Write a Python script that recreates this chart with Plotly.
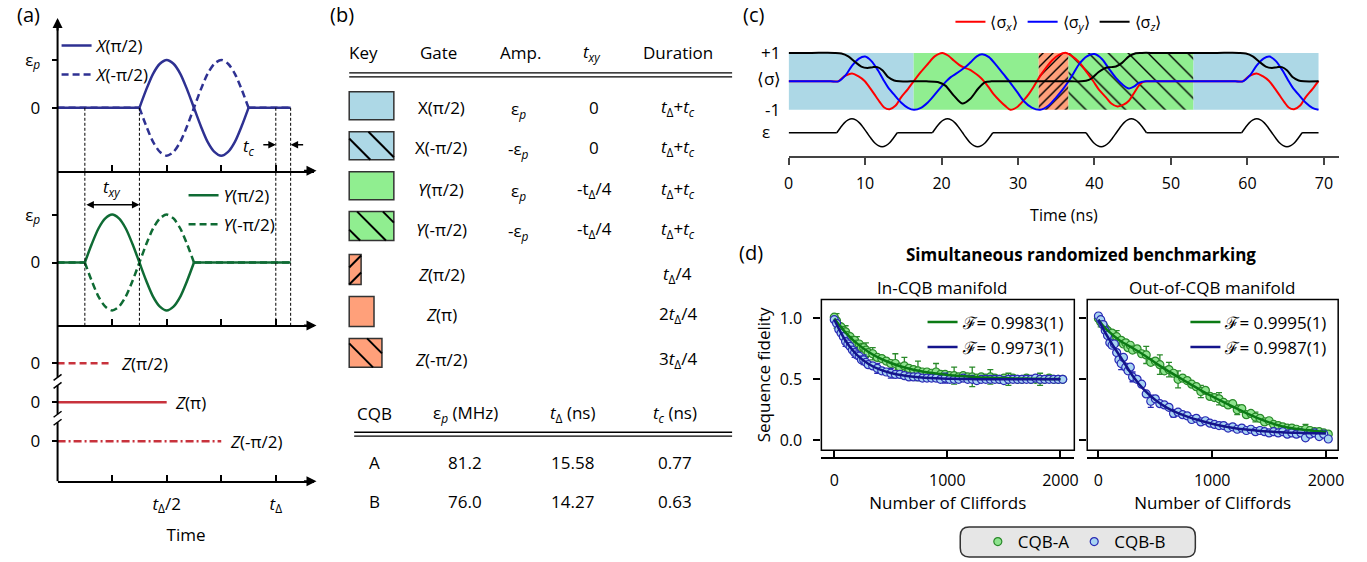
import plotly.graph_objects as go

W, H = 1367, 562
FONT = "Open Sans"

# ---------------- panel (a) data (time in units of t_Delta) ----------------
PULSE_FRACTION = [0, 0.0625, 0.125, 0.1875, 0.25, 0.3125, 0.375, 0.4375, 0.5,
                  0.5625, 0.625, 0.6875, 0.75, 0.8125, 0.875, 0.9375, 1.0]
PULSE_SHAPE = [0, 0.38, 0.71, 0.92, 1.0, 0.92, 0.71, 0.38, 0,
               -0.38, -0.71, -0.92, -1.0, -0.92, -0.71, -0.38, 0]
A_TIME_END = 1.068
X_PULSE_START = 0.375
Y_PULSE_START = 0.125
PULSE_WIDTH = 0.5
X_NAMES = ["<i>X</i>(π/2)", "<i>X</i>(-π/2)"]
Y_NAMES = ["<i>Y</i>(π/2)", "<i>Y</i>(-π/2)"]
PULSE_SIGNS = [1, -1]
Z_NAMES = ["<i>Z</i>(π/2)", "<i>Z</i>(π)", "<i>Z</i>(-π/2)"]
Z_DURATIONS = [0.25, 0.5, 0.75]
Z_LEVELS = [2, 1, 0]
MARK_T = [0.125, 0.375, 1.0, 1.068]

# ---------------- panel (b) table ----------------
TABLE_HEAD = ["Key", "Gate", "Amp.", "<i>t</i><sub><i>xy</i></sub>", "Duration"]
GATE_ROWS = ["X(π/2)", "X(-π/2)", "<i>Y</i>(π/2)", "<i>Y</i>(-π/2)",
             "<i>Z</i>(π/2)", "<i>Z</i>(π)", "<i>Z</i>(-π/2)"]
AMP_ROWS = ["ε<sub><i>p</i></sub>", "-ε<sub><i>p</i></sub>", "ε<sub><i>p</i></sub>",
            "-ε<sub><i>p</i></sub>", "", "", ""]
TXY_ROWS = ["0", "0", "-t<sub>Δ</sub>/4", "-t<sub>Δ</sub>/4", "", "", ""]
DUR_ROWS = ["<i>t</i><sub>Δ</sub>+<i>t</i><sub><i>c</i></sub>"] * 4 + \
           ["<i>t</i><sub>Δ</sub>/4", "2<i>t</i><sub>Δ</sub>/4", "3<i>t</i><sub>Δ</sub>/4"]
CQB_HEAD = ["CQB", "ε<sub><i>p</i></sub> (MHz)", "<i>t</i><sub>Δ</sub> (ns)", "<i>t</i><sub><i>c</i></sub> (ns)"]
CQB_NAMES = ["A", "B"]
EPS_P_MHZ = ["81.2", "76.0"]
T_DELTA_NS = ["15.58", "14.27"]
T_C_NS = ["0.77", "0.63"]

# ---------------- panel (c) data (ns) ----------------
GATE_LABELS = ["X(π/2)", "Y(π/2)", "Z(π/2)", "Y(-π/2)", "X(π/2)"]
GATE_BOUNDS = [0, 16.35, 32.7, 36.6, 52.95, 69.3]
SX_T = [0, 3, 5.5, 6.5, 7.3, 8.3, 9.1, 9.9, 10.6, 11.2, 11.9, 12.5, 13.2, 14.0, 14.7, 15.6, 16.4,
        17.3, 18.2, 19.1, 20.1, 20.9, 21.6, 22.3, 22.9, 23.6, 24.2, 24.9, 25.5,
        26.2, 26.8, 27.6, 28.4, 29.0, 29.9, 30.7, 31.4, 32.0, 32.8, 33.7, 34.5, 35.3, 36.3,
        37.1, 38.0, 38.9, 39.8, 40.6, 41.5, 42.2, 43.0, 43.8, 44.5, 45.2, 45.8, 46.3, 46.9,
        50, 55, 58.4, 59.4,
        60.2, 61.2, 62.0, 62.8, 63.5, 64.1, 64.8, 65.4, 66.1, 66.9, 67.6, 68.5, 69.3]
SX = [0, 0, 0, 0, 0.18, 0.28, 0.18, 0.02, -0.22, -0.45, -0.72, -0.92, -0.98, -0.85, -0.56, -0.27, 0.02,
      0.33, 0.61, 0.88, 1.0, 0.9, 0.73, 0.58, 0.49, 0.42, 0.32, 0.18, 0.02,
      -0.22, -0.45, -0.68, -0.88, -1.0, -0.9, -0.68, -0.45, -0.21, 0.15, 0.49, 0.75, 0.92, 1.0,
      0.88, 0.67, 0.35, 0.02, -0.3, -0.56, -0.78, -0.88, -0.82, -0.68, -0.4, -0.15, -0.03, 0,
      0, 0, 0, 0,
      0.18, 0.28, 0.18, 0.02, -0.22, -0.45, -0.72, -0.92, -0.98, -0.85, -0.56, -0.27, 0.02]
SY_T = [0, 3, 5.5, 6.5, 7.4, 8.3, 9.2, 10.0, 10.8, 11.7, 12.4, 13.0, 13.9, 14.7, 15.6, 16.4,
        17.3, 18.2, 19.0, 19.9, 20.6, 21.2, 21.9, 22.5, 23.2, 23.8, 24.6, 25.3, 26.2, 27.2, 28.1,
        29.0, 29.9, 30.7, 31.8, 32.9,
        34.0, 35.0, 35.8, 36.5, 37.3, 38.0, 39.0, 40.0, 41.0, 41.9, 42.8, 43.7, 44.5, 45.2, 45.8, 46.7,
        50, 55, 58.4, 59.4,
        60.3, 61.2, 62.1, 62.9, 63.7, 64.6, 65.3, 65.9, 66.8, 67.6, 68.5, 69.3]
SY = [0, 0, 0, 0, 0.2, 0.55, 0.8, 0.87, 0.72, 0.38, 0.05, -0.21, -0.5, -0.74, -0.93, -1.0,
      -0.93, -0.74, -0.5, -0.21, 0.0, 0.15, 0.27, 0.38, 0.52, 0.67, 0.88, 0.95, 0.85, 0.55, 0.25,
      -0.05, -0.38, -0.68, -0.92, -1.0,
      -0.85, -0.56, -0.3, -0.04, 0.3, 0.61, 0.88, 0.96, 0.78, 0.44, 0.12, -0.12, -0.25, -0.18, -0.05, 0,
      0, 0, 0, 0,
      0.2, 0.55, 0.8, 0.87, 0.72, 0.38, 0.05, -0.21, -0.5, -0.74, -0.93, -1.0]
SZ_T = [0, 3, 6.0, 6.9, 7.8, 8.7, 9.5, 10.3, 11.0, 11.6, 12.3, 13.0, 13.8, 14.5,
        16, 18, 19.5, 20.5, 21.6, 22.7, 23.8, 24.8, 25.7, 26.5,
        28, 31, 34, 37, 38.2, 38.9, 39.6, 40.5, 41.5, 42.2, 42.8, 43.6, 44.5, 45.4, 46.2,
        48, 52, 56, 58.9, 59.8, 60.7, 61.6, 62.4, 63.2, 63.9, 64.5, 65.2, 65.9, 66.7, 67.4, 69.3]
SZ = [1, 1, 1, 0.98, 0.88, 0.68, 0.52, 0.47, 0.5, 0.5, 0.38, 0.15, 0.03, 0,
      0, 0, -0.02, -0.15, -0.5, -0.78, -0.6, -0.25, -0.03, 0,
      0, 0, 0, 0, 0, 0.02, 0.1, 0.32, 0.48, 0.5, 0.52, 0.65, 0.88, 0.99, 1,
      1, 1, 1, 1, 0.98, 0.88, 0.68, 0.52, 0.47, 0.5, 0.5, 0.38, 0.15, 0.03, 0, 0]
EPS_PULSE_START = [6.3, 18.8, 38.9, 59.25]
EPS_PULSE_WIDTH = 7.9
EPS_PULSE_SIGN = [1, 1, -1, 1]
C_T_END = 69.3
SIGMA_NAMES = ["⟨σ<sub><i>x</i></sub>⟩", "⟨σ<sub><i>y</i></sub>⟩", "⟨σ<sub><i>z</i></sub>⟩"]

# ---------------- panel (d) data ----------------
M_DATA = [0, 20, 40, 60, 80, 100, 120, 140, 160, 180, 200, 220, 240, 260, 280, 300,
          340, 380, 420, 460, 500, 540, 580, 620, 660, 700, 740, 780, 820, 860, 900, 940, 980,
          1020, 1060, 1100, 1140, 1180, 1220, 1260, 1300, 1340, 1380, 1420, 1460, 1500, 1540,
          1580, 1620, 1660, 1700, 1740, 1780, 1820, 1860, 1900, 1940, 1980, 2020]
IN_A = [1.01, 0.98, 0.94, 0.93, 0.90, 0.89, 0.86, 0.85, 0.82, 0.82, 0.79, 0.79, 0.76, 0.76, 0.74, 0.72,
        0.71, 0.68, 0.67, 0.65, 0.63, 0.63, 0.60, 0.61, 0.59, 0.58, 0.57, 0.56, 0.56, 0.55, 0.56,
        0.54, 0.54, 0.53, 0.53, 0.52, 0.53, 0.52, 0.52, 0.51, 0.52, 0.51, 0.52, 0.51, 0.50, 0.51,
        0.50, 0.51, 0.50, 0.50, 0.51, 0.50, 0.50, 0.50, 0.50, 0.51, 0.50, 0.50, 0.50]
IN_A_ERR = [0.02, 0.06, 0.02, 0.02, 0.02, 0.05, 0.02, 0.02, 0.02, 0.02, 0.06, 0.02, 0.02, 0.02, 0.06, 0.02,
            0.05, 0.02, 0.02, 0.02, 0.02, 0.08, 0.02, 0.07, 0.02, 0.02, 0.08, 0.02, 0.02, 0.02, 0.07,
            0.02, 0.02, 0.02, 0.07, 0.02, 0.02, 0.02, 0.08, 0.02, 0.02, 0.02, 0.06, 0.02, 0.02, 0.02,
            0.05, 0.02, 0.02, 0.02, 0.02, 0.02, 0.02, 0.05, 0.02, 0.02, 0.02, 0.02, 0.02]
IN_B = [0.99, 0.96, 0.91, 0.88, 0.85, 0.81, 0.79, 0.77, 0.74, 0.72, 0.70, 0.69, 0.66, 0.66, 0.64, 0.62,
        0.61, 0.59, 0.57, 0.56, 0.55, 0.54, 0.54, 0.53, 0.52, 0.52, 0.52, 0.51, 0.51, 0.51, 0.51,
        0.50, 0.51, 0.50, 0.50, 0.50, 0.51, 0.50, 0.50, 0.49, 0.50, 0.50, 0.50, 0.50, 0.50, 0.49,
        0.50, 0.50, 0.50, 0.50, 0.50, 0.50, 0.51, 0.50, 0.50, 0.50, 0.50, 0.50, 0.50]
IN_B_ERR = [0.012, 0.012, 0.012, 0.012, 0.012, 0.04, 0.012, 0.012, 0.012, 0.04, 0.012, 0.012, 0.012, 0.04,
            0.012, 0.012, 0.012, 0.04, 0.012, 0.012, 0.04, 0.012, 0.012, 0.012, 0.012, 0.012, 0.012,
            0.012, 0.012, 0.012, 0.012, 0.012, 0.04, 0.012, 0.012, 0.012, 0.012, 0.012, 0.012, 0.012,
            0.012, 0.012, 0.012, 0.012, 0.012, 0.012, 0.012, 0.012, 0.012, 0.012, 0.012, 0.012, 0.012,
            0.012, 0.012, 0.012, 0.012, 0.012, 0.012]
OUT_A = [1.00, 0.97, 0.95, 0.92, 0.90, 0.86, 0.88, 0.84, 0.85, 0.81, 0.82, 0.79, 0.80, 0.76, 0.78, 0.74,
         0.75, 0.71, 0.70, 0.64, 0.65, 0.62, 0.57, 0.58, 0.55, 0.50, 0.51, 0.49, 0.46, 0.44, 0.40,
         0.41, 0.36, 0.35, 0.34, 0.31, 0.29, 0.30, 0.25, 0.26, 0.21, 0.22, 0.19, 0.18, 0.15, 0.16,
         0.13, 0.12, 0.11, 0.10, 0.10, 0.09, 0.08, 0.09, 0.08, 0.07, 0.07, 0.06, 0.05]
OUT_A_ERR = [0.015, 0.04, 0.015, 0.015, 0.015, 0.015, 0.015, 0.015, 0.05, 0.015, 0.015, 0.015, 0.015,
             0.015, 0.015, 0.015, 0.015, 0.015, 0.07, 0.015, 0.015, 0.08, 0.015, 0.06, 0.015, 0.07,
             0.015, 0.015, 0.015, 0.015, 0.05, 0.015, 0.015, 0.015, 0.05, 0.015, 0.015, 0.015, 0.04,
             0.015, 0.015, 0.015, 0.04, 0.015, 0.015, 0.015, 0.015, 0.015, 0.015, 0.015, 0.015, 0.015,
             0.015, 0.04, 0.015, 0.015, 0.015, 0.015, 0.015]
OUT_B = [1.02, 0.99, 0.95, 0.90, 0.86, 0.80, 0.78, 0.79, 0.72, 0.66, 0.63, 0.68, 0.60, 0.57, 0.60, 0.52,
         0.50, 0.46, 0.38, 0.32, 0.34, 0.30, 0.29, 0.27, 0.22, 0.23, 0.21, 0.20, 0.17, 0.18, 0.15,
         0.16, 0.14, 0.13, 0.12, 0.12, 0.10, 0.11, 0.09, 0.10, 0.08, 0.09, 0.07, 0.08, 0.07, 0.06,
         0.07, 0.06, 0.07, 0.05, 0.06, 0.05, 0.06, 0.02, 0.05, 0.06, 0.03, 0.05, 0.01]
OUT_B_ERR = [0.012, 0.012, 0.012, 0.012, 0.012, 0.012, 0.012, 0.012, 0.012, 0.012, 0.05, 0.012, 0.012,
             0.012, 0.012, 0.04, 0.012, 0.012, 0.012, 0.05, 0.012, 0.012, 0.012, 0.012, 0.03, 0.012,
             0.012, 0.012, 0.012, 0.012, 0.012, 0.012, 0.012, 0.012, 0.012, 0.012, 0.012, 0.012, 0.012,
             0.012, 0.012, 0.012, 0.012, 0.012, 0.012, 0.012, 0.012, 0.012, 0.012, 0.012, 0.012, 0.012,
             0.012, 0.012, 0.012, 0.012, 0.012, 0.012, 0.012]
M_FIT = [0, 50, 100, 150, 200, 300, 400, 500, 600, 700, 800, 900, 1000, 1100, 1200, 1300, 1400,
         1500, 1600, 1700, 1800, 1900, 2000]
IN_A_FIT = [1.0, 0.939, 0.884, 0.837, 0.795, 0.727, 0.674, 0.634, 0.603, 0.579, 0.561, 0.547, 0.536,
            0.528, 0.521, 0.516, 0.513, 0.510, 0.507, 0.506, 0.504, 0.503, 0.503]
IN_B_FIT = [0.99, 0.898, 0.817, 0.753, 0.701, 0.628, 0.581, 0.552, 0.533, 0.521, 0.513, 0.508, 0.505,
            0.503, 0.502, 0.501, 0.501, 0.500, 0.500, 0.500, 0.500, 0.500, 0.500]
OUT_A_FIT = [0.99, 0.93, 0.885, 0.845, 0.81, 0.757, 0.70, 0.635, 0.575, 0.52, 0.465, 0.41, 0.36,
             0.313, 0.267, 0.222, 0.182, 0.147, 0.118, 0.098, 0.085, 0.076, 0.068]
OUT_B_FIT = [0.99, 0.90, 0.82, 0.745, 0.675, 0.53, 0.415, 0.33, 0.268, 0.222, 0.188, 0.16, 0.135,
             0.115, 0.099, 0.087, 0.078, 0.071, 0.066, 0.062, 0.059, 0.057, 0.055]
FID_IN = ["ℱ= 0.9983(1)", "ℱ= 0.9973(1)"]
FID_OUT = ["ℱ= 0.9995(1)", "ℱ= 0.9987(1)"]
CQB_LABELS = ["CQB-A", "CQB-B"]

# ---------------- helpers ----------------
def fx(p):
    return p / W

def fy(p):
    return 1 - p / H

ANN = []
SHAPES = []

def txt(x, y, s, size=17, xanchor="center", **kw):
    ANN.append(dict(x=fx(x), y=fy(y), xref="paper", yref="paper", text=s, showarrow=False,
                    xanchor=xanchor, yanchor="middle",
                    font=dict(size=size, family=FONT, color="black"), **kw))

def pline(x0, y0, x1, y1, width=1.5, color="black", dash=None):
    d = dict(type="line", xref="paper", yref="paper", x0=fx(x0), y0=fy(y0), x1=fx(x1), y1=fy(y1),
             line=dict(color=color, width=width))
    if dash:
        d["line"]["dash"] = dash
    SHAPES.append(d)

def arrowhead(x, y, ax, ay, width=2):
    ANN.append(dict(x=fx(x), y=fy(y), xref="paper", yref="paper", ax=ax, ay=ay, text="",
                    showarrow=True, arrowhead=2, arrowsize=1, arrowwidth=width, arrowcolor="black"))

fig = go.Figure()

# ======================= panel (a) =======================
CX, CY, CZ = "#2e3192", "#0f6b34", "#c8323c"
DASH = "7px,4px"

def pulse_xy(start, width, sign, t_end):
    xs = [0, start, None] + [start + f * width for f in PULSE_FRACTION] + [None, start + width, t_end]
    ys = [0, 0, None] + [sign * v for v in PULSE_SHAPE] + [None, 0, 0]
    return xs, ys

for name, sgn in zip(X_NAMES, PULSE_SIGNS):
    xs, ys = pulse_xy(X_PULSE_START, PULSE_WIDTH, sgn, A_TIME_END)
    fig.add_trace(go.Scatter(x=xs, y=ys, mode="lines", name=name, legend="legend3", legendgroup=name,
                             line=dict(color=CX, width=2.5, dash="solid" if sgn > 0 else DASH,
                                       shape="spline", smoothing=0.8),
                             xaxis="x", yaxis="y", hoverinfo="skip"))
for name, sgn in zip(Y_NAMES, PULSE_SIGNS):
    xs, ys = pulse_xy(Y_PULSE_START, PULSE_WIDTH, sgn, A_TIME_END)
    fig.add_trace(go.Scatter(x=xs, y=ys, mode="lines", name=name, legend="legend4", legendgroup=name,
                             line=dict(color=CY, width=2.5, dash="solid" if sgn > 0 else DASH,
                                       shape="spline", smoothing=0.8),
                             xaxis="x2", yaxis="y2", hoverinfo="skip"))
Z_DASHES = [DASH, "solid", "8px,3px,2px,3px"]
for name, dur, lvl, dsh in zip(Z_NAMES, Z_DURATIONS, Z_LEVELS, Z_DASHES):
    fig.add_trace(go.Scatter(x=[0, dur], y=[lvl, lvl], mode="lines", name=name, showlegend=False,
                             line=dict(color=CZ, width=2.5, dash=dsh), xaxis="x3", yaxis="y3",
                             hoverinfo="skip"))
    ANN.append(dict(x=dur + 0.03, y=lvl, xref="x3", yref="y3", text=name, showarrow=False,
                    xanchor="left", yanchor="middle", font=dict(size=17, family=FONT, color="black")))

# pixel anchors of panel (a)
A_L, A_R, A_UNIT = 53, 312, 220.0
A_XMAX = (A_R - A_L) / A_UNIT
TOP_Y0, TOP_Y1, TOP_ZERO, TOP_SC = 20, 171, 108, 48.0
MID_Y0, MID_Y1, MID_ZERO = 171, 326, 263
BOT_Y0, BOT_Y1, BOT_ZERO, BOT_SC = 326, 482, 442, 39.0

ax_a = dict(showgrid=False, zeroline=False, showline=True, linecolor="black", linewidth=2,
            ticks="inside", ticklen=6, tickwidth=2, tickcolor="black",
            tickvals=[0.25, 0.5, 0.75, 1.0], range=[0, A_XMAX], domain=[fx(A_L), fx(A_R)],
            fixedrange=True)
ay_a = dict(showgrid=False, zeroline=False, showline=False, ticks="outside", ticklen=5, tickwidth=2,
            tickcolor="black", tickfont=dict(size=17, family=FONT, color="black"),
            ticklabelstandoff=8, fixedrange=True)

# dashed timing markers
for t in MARK_T:
    SHAPES.append(dict(type="line", xref="x", yref="paper", x0=t, x1=t, y0=fy(TOP_ZERO), y1=fy(MID_Y1),
                       line=dict(color="black", width=1, dash="3px,2px")))
# spine with breaks
for s0, s1 in [(26, 378), (386, 415), (423, BOT_Y1)]:
    pline(A_L, s0, A_L, s1, width=2)
for yb in [378, 415]:
    pline(A_L - 4, yb + 3, A_L + 4, yb - 3, width=1.5)
    pline(A_L - 4, yb + 11, A_L + 4, yb + 5, width=1.5)
arrowhead(A_L, 18, 0, 14)
for yy in [TOP_Y1, MID_Y1, BOT_Y1]:
    arrowhead(A_R + 2, yy, -14, 0)

# t_xy double arrow and t_c arrows
ANN.append(dict(x=MARK_T[1], y=fy(205), xref="x2", yref="paper", ax=MARK_T[0], ay=0, axref="x2",
                ayref="pixel", text="", showarrow=True, arrowhead=2, arrowside="end+start",
                arrowsize=1, arrowwidth=1.5, arrowcolor="black"))
txt(108, 188, "<i>t</i><sub><i>xy</i></sub>", size=17)
ANN.append(dict(x=MARK_T[2], y=fy(145), xref="x", yref="paper", ax=-14, ay=0, text="",
                showarrow=True, arrowhead=2, arrowsize=1, arrowwidth=1.5, arrowcolor="black"))
ANN.append(dict(x=MARK_T[3], y=fy(145), xref="x", yref="paper", ax=14, ay=0, text="",
                showarrow=True, arrowhead=2, arrowsize=1, arrowwidth=1.5, arrowcolor="black"))
txt(246, 147, "<i>t</i><sub><i>c</i></sub>", size=17)
txt(24, 15, "(a)", size=20)

# ======================= panel (b) =======================
txt(340, 15, "(b)", size=20)
HEAD_X = [361, 437, 520, 592, 678]
for hx, h in zip(HEAD_X, TABLE_HEAD):
    txt(hx, 53, h)
pline(347, 73, 733, 73, width=1.3)
pline(347, 77, 733, 77, width=1.3)
ROW_Y = [108, 148, 190, 230, 275, 315, 360]
for ry, g, a, t, d in zip(ROW_Y, GATE_ROWS, AMP_ROWS, TXY_ROWS, DUR_ROWS):
    txt(440, ry, g)
    if a:
        txt(518, ry + 2, a)
    if t:
        txt(594, ry, t)
    txt(678, ry, d)

# key swatches: (x0, x1, y0, y1, colour, hatch, offsets)
KEYS = [(347, 392, 92, 120, "#add8e6", None, []),
        (347, 392, 132, 160, "#add8e6", "\\", [-6.7, 19.4]),
        (347, 392, 172, 200, "#90ee90", None, []),
        (347, 392, 212, 241, "#90ee90", "\\", [-18, 8, 34]),
        (347, 359, 255, 285, "#ffa07a", "/", [0, -17]),
        (347, 372, 297, 327, "#ffa07a", None, []),
        (347, 380, 339, 368, "#ffa07a", "\\", [-5, 18])]
for x0, x1, y0, y1, col, hat, cs in KEYS:
    SHAPES.append(dict(type="rect", xref="paper", yref="paper", x0=fx(x0), x1=fx(x1), y0=fy(y1),
                       y1=fy(y0), fillcolor=col, line=dict(color="#333333", width=1.5)))
    for c in cs:
        tmin, tmax = max(-c, 0), min(x1 - x0 - c, y1 - y0)
        if tmin < tmax:
            if hat == "\\":
                pline(x0 + c + tmin, y0 + tmin, x0 + c + tmax, y0 + tmax, width=2)
            else:
                pline(x0 + c + tmin, y1 - tmin, x0 + c + tmax, y1 - tmax, width=2)

CQB_X = [373, 464, 572, 675]
for hx, h in zip(CQB_X, CQB_HEAD):
    txt(hx, 414, h)
pline(352, 433, 733, 433, width=1.3)
pline(352, 437, 733, 437, width=1.3)
for ry, n, e, td, tc in zip([463, 502], CQB_NAMES, EPS_P_MHZ, T_DELTA_NS, T_C_NS):
    for hx, s in zip(CQB_X, [n, e, td, tc]):
        txt(hx, ry, s)

# ======================= panel (c) =======================
txt(755, 15, "(c)", size=20)
GATE_STYLE = {"X(π/2)": ("#add8e6", "", 10, 0.1), "Y(π/2)": ("#90ee90", "", 10, 0.1),
              "Z(π/2)": ("#ffa07a", "/", 7, 0.2), "Y(-π/2)": ("#90ee90", "\\", 14, 0.1)}
for i, lab in enumerate(GATE_LABELS):
    s, e = GATE_BOUNDS[i], GATE_BOUNDS[i + 1]
    col, hat, size, sol = GATE_STYLE[lab]
    pat = dict(shape=hat, fgcolor="black", bgcolor=col, size=size, solidity=sol, fgopacity=1)
    fig.add_trace(go.Bar(x=[(s + e) / 2], y=[2], base=[-1], width=[e - s], name=lab, showlegend=False,
                         marker=dict(color=col, line=dict(width=0), pattern=pat),
                         xaxis="x4", yaxis="y4", hoverinfo="skip"))
for nm, tt, vv, col in zip(SIGMA_NAMES, [SX_T, SY_T, SZ_T], [SX, SY, SZ], ["#ff0000", "#0000ff", "#000000"]):
    fig.add_trace(go.Scatter(x=tt, y=vv, mode="lines", name=nm, legend="legend",
                             line=dict(color=col, width=2, shape="spline", smoothing=0.8),
                             xaxis="x4", yaxis="y4", hoverinfo="skip"))
# drive amplitude
ex, ey = [0], [0]
for st, sg in zip(EPS_PULSE_START, EPS_PULSE_SIGN):
    ex += [st, None] + [st + f * EPS_PULSE_WIDTH for f in PULSE_FRACTION] + [None, st + EPS_PULSE_WIDTH]
    ey += [0, None] + [sg * v for v in PULSE_SHAPE] + [None, 0]
ex.append(C_T_END)
ey.append(0)
fig.add_trace(go.Scatter(x=ex, y=ey, mode="lines", name="ε", showlegend=False,
                         line=dict(color="black", width=1.5, shape="spline", smoothing=0.8),
                         xaxis="x4", yaxis="y5", hoverinfo="skip"))
txt(783, 53, "+1", xanchor="right")
txt(770, 79, "⟨σ⟩")
txt(783, 110, "-1", xanchor="right")
txt(767, 132, "ε")

# ======================= panel (d) =======================
txt(752, 253, "(d)", size=20)
txt(1085, 255, "<b>Simultaneous randomized benchmarking</b>", size=17)
txt(945, 288, "In-CQB manifold", size=17)
txt(1217, 288, "Out-of-CQB manifold", size=17)
GREEN_FILL, GREEN_EDGE, GREEN_LINE = "#8ee38e", "#2a8a2a", "#0b7a14"
BLUE_FILL, BLUE_EDGE, BLUE_LINE = "#a8d4f2", "#2a2ab4", "#14148c"

def rb_traces(xa, ya, a, aerr, b, berr, afit, bfit, names, legend_fit, show):
    for vals, err, fill, edge, nm in [(a, aerr, GREEN_FILL, GREEN_EDGE, CQB_LABELS[0]),
                                      (b, berr, BLUE_FILL, BLUE_EDGE, CQB_LABELS[1])]:
        fig.add_trace(go.Scatter(x=M_DATA, y=vals, mode="markers", name=nm, legend="legend2",
                                 showlegend=show,
                                 marker=dict(size=8, color=fill, line=dict(color=edge, width=1.2)),
                                 error_y=dict(type="data", array=err, color=edge, thickness=1.3, width=3),
                                 xaxis=xa, yaxis=ya, hoverinfo="skip"))
    for vals, col, nm in [(afit, GREEN_LINE, names[0]), (bfit, BLUE_LINE, names[1])]:
        fig.add_trace(go.Scatter(x=M_FIT, y=vals, mode="lines", name=nm, legend=legend_fit,
                                 line=dict(color=col, width=2.5, shape="spline", smoothing=0.6),
                                 xaxis=xa, yaxis=ya, hoverinfo="skip"))

rb_traces("x6", "y6", IN_A, IN_A_ERR, IN_B, IN_B_ERR, IN_A_FIT, IN_B_FIT, FID_IN, "legend5", True)
rb_traces("x7", "y7", OUT_A, OUT_A_ERR, OUT_B, OUT_B_ERR, OUT_A_FIT, OUT_B_FIT, FID_OUT, "legend6", False)

for x0, x1 in [(823, 1078), (1091, 1344)]:
    SHAPES.append(dict(type="rect", xref="paper", yref="paper", x0=fx(x0), x1=fx(x1), y0=fy(451),
                       y1=fy(300), line=dict(color="black", width=1.5), fillcolor="rgba(0,0,0,0)"))

def rounded(x0, y0, x1, y1, r):
    P = lambda x, y: f"{fx(x):.5f},{fy(y):.5f}"
    return (f"M {P(x0 + r, y0)} L {P(x1 - r, y0)} Q {P(x1, y0)} {P(x1, y0 + r)} "
            f"L {P(x1, y1 - r)} Q {P(x1, y1)} {P(x1 - r, y1)} L {P(x0 + r, y1)} "
            f"Q {P(x0, y1)} {P(x0, y1 - r)} L {P(x0, y0 + r)} Q {P(x0, y0)} {P(x0 + r, y0)} Z")

SHAPES.append(dict(type="path", xref="paper", yref="paper", path=rounded(963, 528, 1200, 558, 9),
                   fillcolor="#e6e6e6", line=dict(color="#333333", width=1.5), layer="below"))

def d_range(px0, px1, p0, p2000):
    s = (p2000 - p0) / 2000.0
    return [(px0 - p0) / s, (px1 - p0) / s]

Y_D_RANGE = [-(451 - 441) / 122.0, (441 - 300) / 122.0]
ax_d = dict(showgrid=False, zeroline=False, showline=True, linecolor="black", linewidth=1.5,
            ticks="inside", ticklen=6, tickwidth=1.5, tickcolor="black", tickvals=[0, 1000, 2000],
            tickfont=dict(size=16, family=FONT, color="black"), anchor="free", position=fy(459),
            ticklabelstandoff=8, fixedrange=True,
            title=dict(text="Number of Cliffords", font=dict(size=17, family=FONT, color="black"), standoff=5))
ay_d = dict(showgrid=False, zeroline=False, showline=False, ticks="outside", ticklen=7, tickwidth=1.5,
            tickcolor="black", tickvals=[0, 0.5, 1.0], ticktext=["0.0", "0.5", "1.0"],
            tickfont=dict(size=16, family=FONT, color="black"), range=Y_D_RANGE,
            domain=[fy(451), fy(300)], fixedrange=True, ticklabelstandoff=8)

fig.update_layout(
    width=W, height=H, margin=dict(l=0, r=0, t=0, b=0), paper_bgcolor="white", plot_bgcolor="rgba(0,0,0,0)",
    font=dict(family=FONT, size=16, color="black"), barmode="overlay", hovermode=False,
    xaxis=dict(ax_a, anchor="y", showticklabels=False),
    yaxis=dict(ay_a, anchor="x", domain=[fy(TOP_Y1), fy(TOP_Y0)],
               range=[(TOP_ZERO - TOP_Y1) / TOP_SC, (TOP_ZERO - TOP_Y0) / TOP_SC],
               tickvals=[0, 1], ticktext=["0", "ε<sub><i>p</i></sub>"]),
    xaxis2=dict(ax_a, anchor="y2", showticklabels=False),
    yaxis2=dict(ay_a, anchor="x2", domain=[fy(MID_Y1), fy(MID_Y0)],
                range=[(MID_ZERO - MID_Y1) / TOP_SC, (MID_ZERO - MID_Y0) / TOP_SC],
                tickvals=[0, 1], ticktext=["0", "ε<sub><i>p</i></sub>"]),
    xaxis3=dict(ax_a, anchor="y3", showticklabels=True,
                ticktext=["", "<i>t</i><sub>Δ</sub>/2", "", "<i>t</i><sub>Δ</sub>"],
                tickfont=dict(size=17, family=FONT, color="black"), ticklabelstandoff=6,
                title=dict(text="Time", font=dict(size=17, family=FONT, color="black"), standoff=14)),
    yaxis3=dict(ay_a, anchor="x3", domain=[fy(BOT_Y1), fy(BOT_Y0)],
                range=[(BOT_ZERO - BOT_Y1) / BOT_SC, (BOT_ZERO - BOT_Y0) / BOT_SC],
                tickvals=Z_LEVELS, ticktext=["0", "0", "0"]),
    xaxis4=dict(domain=[fx(790), fx(1345)], range=[0, 72], anchor="free", position=fy(157),
                showgrid=False, zeroline=False, showline=True, linecolor="#444444", linewidth=2,
                ticks="outside", ticklen=7, tickwidth=2, tickcolor="#444444", ticklabelstandoff=5,
                tickvals=[0, 10, 20, 30, 40, 50, 60, 70], tickfont=dict(size=16, family=FONT, color="black"),
                fixedrange=True,
                title=dict(text="Time (ns)", font=dict(size=16, family=FONT, color="black"), standoff=16)),
    yaxis4=dict(domain=[fy(112.85), fy(50.15)], range=[-1.1, 1.1], anchor="x4", visible=False,
                fixedrange=True),
    yaxis5=dict(domain=[fy(149.8), fy(116.2)], range=[-1.2, 1.2], anchor="x4", visible=False,
                fixedrange=True),
    xaxis6=dict(ax_d, domain=[fx(823), fx(1078)], range=d_range(823, 1078, 836, 1064)),
    yaxis6=dict(ay_d, anchor="x6",
                title=dict(text="Sequence fidelity", font=dict(size=17, family=FONT, color="black"),
                           standoff=4)),
    xaxis7=dict(ax_d, domain=[fx(1091), fx(1344)], range=d_range(1091, 1344, 1102.3, 1331.7)),
    yaxis7=dict(ay_d, anchor="x7", showticklabels=False),
    legend=dict(x=fx(1062), y=fy(22), xanchor="center", yanchor="middle", orientation="h",
                font=dict(size=16, family=FONT), bgcolor="rgba(0,0,0,0)", itemwidth=30),
    legend2=dict(x=fx(1078), y=fy(543), xanchor="center", yanchor="middle", orientation="h",
                 font=dict(size=17, family=FONT), bgcolor="rgba(0,0,0,0)", itemwidth=30),
    legend3=dict(x=fx(52), y=fy(28), xanchor="left", yanchor="top", font=dict(size=17, family=FONT),
                 bgcolor="rgba(0,0,0,0)", itemwidth=30, tracegroupgap=4),
    legend4=dict(x=fx(180), y=fy(178), xanchor="left", yanchor="top", font=dict(size=17, family=FONT),
                 bgcolor="rgba(0,0,0,0)", itemwidth=30, tracegroupgap=4),
    legend5=dict(x=fx(925), y=fy(305), xanchor="left", yanchor="top", font=dict(size=17, family=FONT),
                 bgcolor="rgba(0,0,0,0)", itemwidth=30),
    legend6=dict(x=fx(1190), y=fy(305), xanchor="left", yanchor="top", font=dict(size=17, family=FONT),
                 bgcolor="rgba(0,0,0,0)", itemwidth=30),
    annotations=ANN, shapes=SHAPES,
)

fig.write_html("out.html", config={"displayModeBar": False},
               post_script="document.body.style.margin='0px';")
